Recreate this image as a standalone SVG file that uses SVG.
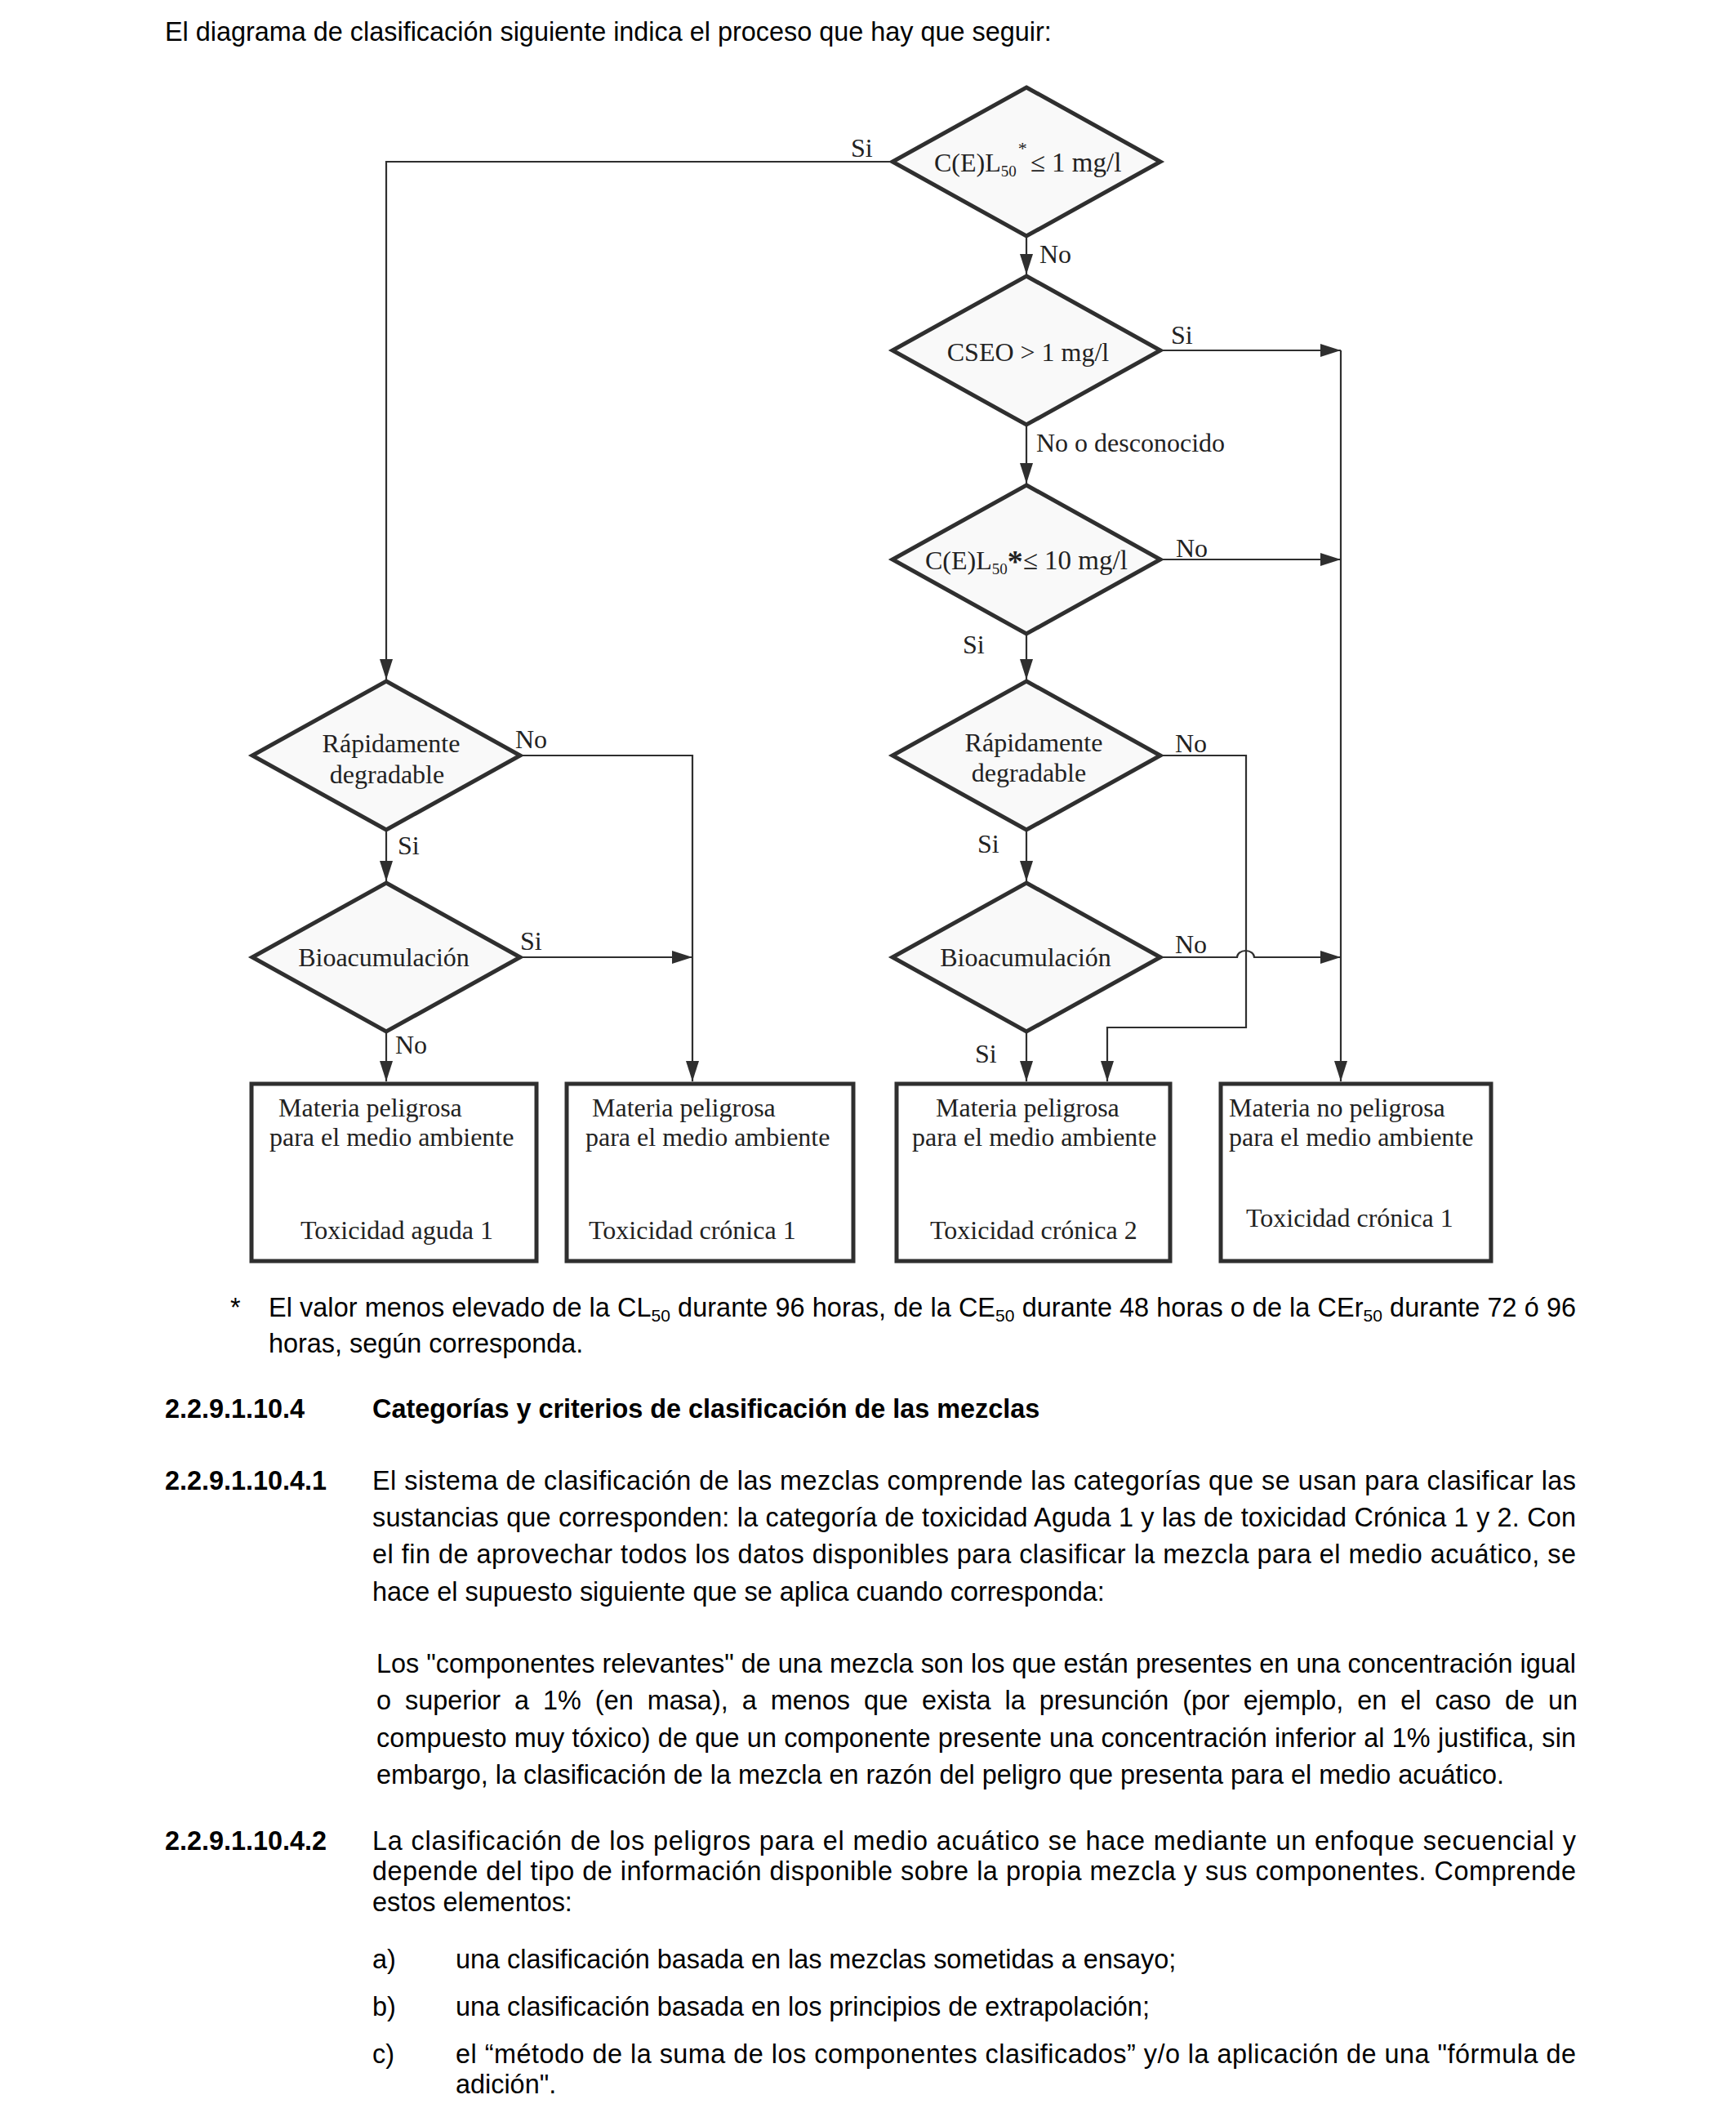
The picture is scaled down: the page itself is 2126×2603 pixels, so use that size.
<svg xmlns="http://www.w3.org/2000/svg" width="2126" height="2603" viewBox="0 0 2126 2603">
<style>
.dg{fill:#f9f9f9;stroke:#2f2f2f;stroke-width:5;stroke-linejoin:miter}
.bx{fill:#fff;stroke:#2f2f2f;stroke-width:5}
.cn{fill:none;stroke:#2f2f2f;stroke-width:2.2}
.t{font-family:"Liberation Serif","Times New Roman",serif;font-size:32px;fill:#222}
.m{text-anchor:middle}
.b{font-family:"Liberation Sans",Arial,sans-serif;font-size:32.4px;fill:#000}
.bb{font-weight:bold}
</style>
<defs>
<marker id="ah" markerUnits="userSpaceOnUse" markerWidth="26" markerHeight="18" refX="25" refY="8" orient="auto">
<path d="M0,0 L25,8 L0,16 z" fill="#2f2f2f"/>
</marker>
</defs>
<rect width="2126" height="2603" fill="#fff"/>

<text class="b" x="202" y="50">El diagrama de clasificación siguiente indica el proceso que hay que seguir:</text>

<g id="connectors">
<path class="cn" d="M1093,198 H473 V832" marker-end="url(#ah)"/>
<path class="cn" d="M1257,289 V336" marker-end="url(#ah)"/>
<path class="cn" d="M1421,429 H1642" marker-end="url(#ah)"/>
<path class="cn" d="M1642,429 V1324" marker-end="url(#ah)"/>
<path class="cn" d="M1257,520 V592" marker-end="url(#ah)"/>
<path class="cn" d="M1421,685 H1642" marker-end="url(#ah)"/>
<path class="cn" d="M1257,776 V832" marker-end="url(#ah)"/>
<path class="cn" d="M637,925 H848 V1324" marker-end="url(#ah)"/>
<path class="cn" d="M473,1016 V1079" marker-end="url(#ah)"/>
<path class="cn" d="M637,1172 H848" marker-end="url(#ah)"/>
<path class="cn" d="M473,1263 V1324" marker-end="url(#ah)"/>
<path class="cn" d="M1421,925 H1526 V1258 H1356 V1324" marker-end="url(#ah)"/>
<path class="cn" d="M1257,1016 V1079" marker-end="url(#ah)"/>
<path class="cn" d="M1421,1172 H1515 A10.5,8 0 0 1 1536,1172 H1642" marker-end="url(#ah)"/>
<path class="cn" d="M1257,1263 V1324" marker-end="url(#ah)"/>
<text class="t" x="1042" y="192">Si</text>
<text class="t" x="1273" y="322">No</text>
<text class="t" x="1434" y="421">Si</text>
<text class="t" x="1269" y="553">No o desconocido</text>
<text class="t" x="1440" y="682">No</text>
<text class="t" x="1179" y="800">Si</text>
<text class="t" x="631" y="916">No</text>
<text class="t" x="487" y="1046">Si</text>
<text class="t" x="637" y="1163">Si</text>
<text class="t" x="484" y="1290">No</text>
<text class="t" x="1439" y="921">No</text>
<text class="t" x="1197" y="1044">Si</text>
<text class="t" x="1439" y="1167">No</text>
<text class="t" x="1194" y="1301">Si</text>
</g>

<g id="d1">
<polygon class="dg" points="1257,107 1421,198 1257,289 1093,198"/>
<text class="t" x="1144" y="210">C(E)L<tspan font-size="19" dy="6">50</tspan><tspan font-size="22" dy="-27" dx="2">*</tspan><tspan dy="21" dx="4" font-size="33">≤ 1 mg/l</tspan></text>
</g>
<g id="d2">
<polygon class="dg" points="1257,338 1421,429 1257,520 1093,429"/>
<text class="t m" x="1259" y="442" font-size="33">CSEO &gt; 1 mg/l</text>
</g>
<g id="d3">
<polygon class="dg" points="1257,594 1421,685 1257,776 1093,685"/>
<text class="t" x="1133" y="697">C(E)L<tspan font-size="19" dy="6">50</tspan><tspan font-size="38" font-weight="bold" dy="-3">*</tspan><tspan dy="-3" font-size="33">≤ 10 mg/l</tspan></text>
</g>
<g id="d5">
<polygon class="dg" points="473,834 637,925 473,1016 309,925"/>
<text class="t m" x="479" y="921">Rápidamente</text>
<text class="t m" x="474" y="959">degradable</text>
</g>
<g id="d6">
<polygon class="dg" points="473,1081 637,1172 473,1263 309,1172"/>
<text class="t m" x="470" y="1183">Bioacumulación</text>
</g>
<g id="d7">
<polygon class="dg" points="1257,834 1421,925 1257,1016 1093,925"/>
<text class="t m" x="1266" y="920">Rápidamente</text>
<text class="t m" x="1260" y="957">degradable</text>
</g>
<g id="d8">
<polygon class="dg" points="1257,1081 1421,1172 1257,1263 1093,1172"/>
<text class="t m" x="1256" y="1183">Bioacumulación</text>
</g>

<g id="box1">
<rect class="bx" x="308" y="1327" width="349" height="217"/>
<text class="t" x="341" y="1367">Materia peligrosa</text>
<text class="t" x="330" y="1403">para el medio ambiente</text>
<text class="t" x="368" y="1517">Toxicidad aguda 1</text>
</g>
<g id="box2">
<rect class="bx" x="694" y="1327" width="351" height="217"/>
<text class="t" x="725" y="1367">Materia peligrosa</text>
<text class="t" x="717" y="1403">para el medio ambiente</text>
<text class="t" x="721" y="1517">Toxicidad crónica 1</text>
</g>
<g id="box3">
<rect class="bx" x="1098" y="1327" width="335" height="217"/>
<text class="t" x="1146" y="1367">Materia peligrosa</text>
<text class="t" x="1117" y="1403">para el medio ambiente</text>
<text class="t" x="1139" y="1517">Toxicidad crónica 2</text>
</g>
<g id="box4">
<rect class="bx" x="1495" y="1327" width="331" height="217"/>
<text class="t" x="1505" y="1367">Materia no peligrosa</text>
<text class="t" x="1505" y="1403">para el medio ambiente</text>
<text class="t" x="1526" y="1502">Toxicidad crónica 1</text>
</g>

<g id="text-body">
<text class="b" x="282" y="1612">*</text>
<text class="b" x="329" y="1612" textLength="1601" lengthAdjust="spacing">El valor menos elevado de la CL<tspan font-size="21" dy="6">50</tspan><tspan dy="-6"> durante 96 horas, de la CE</tspan><tspan font-size="21" dy="6">50</tspan><tspan dy="-6"> durante 48 horas o de la CEr</tspan><tspan font-size="21" dy="6">50</tspan><tspan dy="-6"> durante 72 ó 96</tspan></text>
<text class="b" x="329" y="1656">horas, según corresponda.</text>

<text class="b bb" x="202" y="1736">2.2.9.1.10.4</text>
<text class="b bb" x="456" y="1736">Categorías y criterios de clasificación de las mezclas</text>

<text class="b bb" x="202" y="1824">2.2.9.1.10.4.1</text>
<text class="b" x="456" y="1824" textLength="1474" lengthAdjust="spacing">El sistema de clasificación de las mezclas comprende las categorías que se usan para clasificar las</text>
<text class="b" x="456" y="1869" textLength="1474" lengthAdjust="spacing">sustancias que corresponden: la categoría de toxicidad Aguda 1 y las de toxicidad Crónica 1 y 2. Con</text>
<text class="b" x="456" y="1914" textLength="1474" lengthAdjust="spacing">el fin de aprovechar todos los datos disponibles para clasificar la mezcla para el medio acuático, se</text>
<text class="b" x="456" y="1960">hace el supuesto siguiente que se aplica cuando corresponda:</text>

<text class="b" x="461" y="2048" textLength="1469" lengthAdjust="spacing">Los "componentes relevantes" de una mezcla son los que están presentes en una concentración igual</text>
<text class="b" x="461" y="2093" word-spacing="8">o superior a 1% (en masa), a menos que exista la presunción (por ejemplo, en el caso de un</text>
<text class="b" x="461" y="2139" textLength="1469" lengthAdjust="spacing">compuesto muy tóxico) de que un componente presente una concentración inferior al 1% justifica, sin</text>
<text class="b" x="461" y="2184">embargo, la clasificación de la mezcla en razón del peligro que presenta para el medio acuático.</text>

<text class="b bb" x="202" y="2265">2.2.9.1.10.4.2</text>
<text class="b" x="456" y="2265" textLength="1474" lengthAdjust="spacing">La clasificación de los peligros para el medio acuático se hace mediante un enfoque secuencial y</text>
<text class="b" x="456" y="2302" textLength="1474" lengthAdjust="spacing">depende del tipo de información disponible sobre la propia mezcla y sus componentes. Comprende</text>
<text class="b" x="456" y="2340">estos elementos:</text>

<text class="b" x="456" y="2410">a)</text>
<text class="b" x="558" y="2410">una clasificación basada en las mezclas sometidas a ensayo;</text>
<text class="b" x="456" y="2468">b)</text>
<text class="b" x="558" y="2468">una clasificación basada en los principios de extrapolación;</text>
<text class="b" x="456" y="2526">c)</text>
<text class="b" x="558" y="2526" textLength="1372" lengthAdjust="spacing">el “método de la suma de los componentes clasificados” y/o la aplicación de una "fórmula de</text>
<text class="b" x="558" y="2563">adición".</text>
</g>
</svg>
